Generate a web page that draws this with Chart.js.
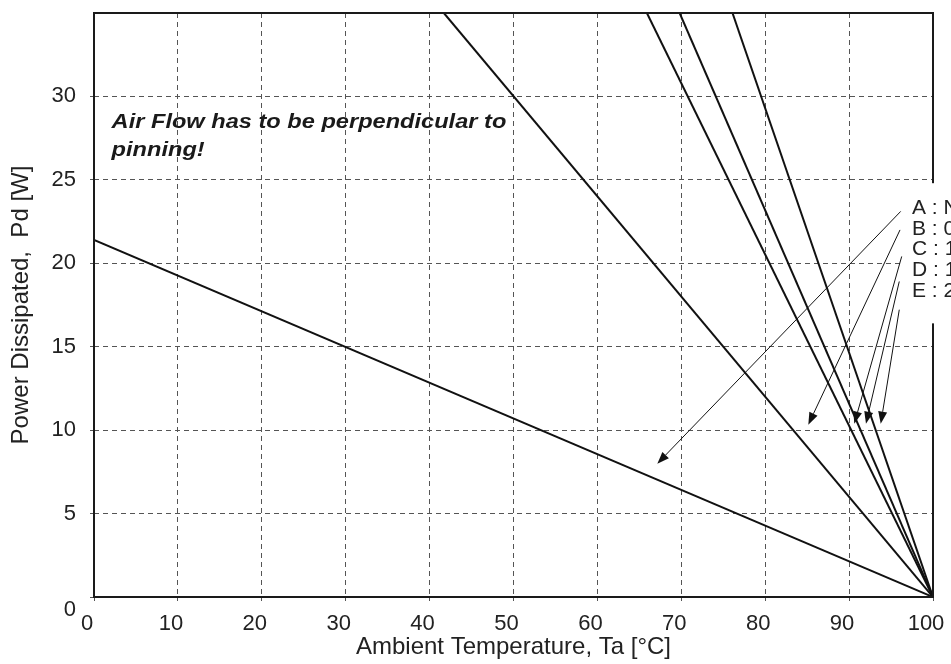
<!DOCTYPE html>
<html>
<head>
<meta charset="utf-8">
<script src="https://cdn.jsdelivr.net/npm/chart.js@4.4.1/dist/chart.umd.min.js"></script>
<style>
  html, body { margin: 0; padding: 0; background: #fff; }
  #wrap { width: 951px; height: 664px; }
</style>
</head>
<body>
<div id="wrap"><canvas id="c" width="951" height="664"></canvas></div>
<script>
// ---- data ----
const xTicks = [0, 10, 20, 30, 40, 50, 60, 70, 80, 90, 100];
const yTicks = [0, 5, 10, 15, 20, 25, 30];
const seriesNames = ['A', 'B', 'C', 'D', 'E'];
// each derating line: ambient temperature [°C] and power [W] at its two ends
const tempA = [0, 100],    powerA = [21.4, 0];
const tempB = [41.7, 100], powerB = [35, 0];
const tempC = [65.9, 100], powerC = [35, 0];
const tempD = [69.8, 100], powerD = [35, 0];
const tempE = [76.1, 100], powerE = [35, 0];
const legendLabels = ['A : No Air Flow', 'B : 0.5 m/s', 'C : 1.0 m/s', 'D : 1.5 m/s', 'E : 2.0 m/s'];
// leader arrows (data units): from near the legend text to the curves
const arrowFromT = [96.15, 96.07, 96.27, 95.98, 95.98];
const arrowFromP = [23.11, 22.0, 20.41, 18.91, 17.22];
const arrowToT   = [67.14, 85.14, 90.62, 92.01, 93.77];
const arrowToP   = [7.99, 10.33, 10.39, 10.39, 10.39];
const noteLines = ['Air Flow has to be perpendicular to', 'pinning!'];
const noteT = [2.1, 2.1];
const noteP = [28.1, 26.45];

const FONT = '"Liberation Sans", Arial, Helvetica, sans-serif';
const INK = '#222';

function pts(ts, ps) { return ts.map((t, i) => ({ x: t, y: ps[i] })); }
const seriesData = [pts(tempA, powerA), pts(tempB, powerB), pts(tempC, powerC), pts(tempD, powerD), pts(tempE, powerE)];

const overlay = {
  id: 'overlay',
  afterDraw(chart) {
    const { ctx, chartArea: a, scales: { x, y } } = chart;
    ctx.save();
    // frame
    ctx.strokeStyle = '#1a1a1a';
    ctx.lineWidth = 2;
    ctx.setLineDash([]);
    ctx.strokeRect(a.left, a.top, a.right - a.left, a.bottom - a.top);
    // legend box (white, no border)
    const bx = a.right - 30, by = y.getPixelForValue(24.8), bh = y.getPixelForValue(16.4) - by;
    ctx.fillStyle = '#fff';
    ctx.fillRect(bx, by, chart.width - bx, bh);
    ctx.fillStyle = INK;
    ctx.font = '21px ' + FONT;
    ctx.textBaseline = 'middle';
    ctx.textAlign = 'left';
    legendLabels.forEach((s, i) => {
      ctx.fillText(s, bx + 9, by + 25 + i * 20.7);
    });
    // arrows
    ctx.strokeStyle = '#111';
    ctx.fillStyle = '#111';
    ctx.lineWidth = 1;
    seriesNames.forEach((n, i) => {
      const x1 = x.getPixelForValue(arrowFromT[i]), y1 = y.getPixelForValue(arrowFromP[i]);
      const x2 = x.getPixelForValue(arrowToT[i]), y2 = y.getPixelForValue(arrowToP[i]);
      const ang = Math.atan2(y2 - y1, x2 - x1);
      const L = 12, W = 4.5;
      const bxp = x2 - L * Math.cos(ang), byp = y2 - L * Math.sin(ang);
      ctx.beginPath();
      ctx.moveTo(x1, y1);
      ctx.lineTo(bxp, byp);
      ctx.stroke();
      ctx.beginPath();
      ctx.moveTo(x2, y2);
      ctx.lineTo(bxp + W * Math.sin(ang), byp - W * Math.cos(ang));
      ctx.lineTo(bxp - W * Math.sin(ang), byp + W * Math.cos(ang));
      ctx.closePath();
      ctx.fill();
    });
    // note (bold italic, slightly wide as in the reference)
    ctx.fillStyle = '#1a1a1a';
    ctx.font = 'italic bold 20px ' + FONT;
    ctx.textBaseline = 'alphabetic';
    noteLines.forEach((s, i) => {
      const px = x.getPixelForValue(noteT[i]), py = y.getPixelForValue(noteP[i]);
      ctx.save();
      ctx.translate(px, py);
      ctx.scale(1.18, 1);
      ctx.fillText(s, 0, 0);
      ctx.restore();
    });
    ctx.restore();
  }
};

new Chart(document.getElementById('c'), {
  type: 'scatter',
  data: {
    datasets: seriesNames.map((n, i) => ({
      label: n,
      data: seriesData[i],
      showLine: true,
      borderColor: '#111',
      borderWidth: 2,
      pointRadius: 0,
      fill: false
    }))
  },
  options: {
    responsive: false,
    animation: false,
    devicePixelRatio: 1,
    layout: { padding: { top: 13, right: 18, left: 0, bottom: 0 } },
    plugins: { legend: { display: false }, tooltip: { enabled: false } },
    scales: {
      x: {
        type: 'linear',
        min: 0, max: 100,
        afterBuildTicks(s) { s.ticks = xTicks.map(v => ({ value: v })); },
        afterFit(s) { s.height = 67; s.paddingLeft = 0; s.paddingRight = 0; s.paddingTop = 0; s.paddingBottom = 0; },
        ticks: { color: INK, font: { family: FONT, size: 22 }, labelOffset: -7, padding: 10, maxRotation: 0, autoSkip: false },
        grid: { color: '#555', lineWidth: 1, tickLength: 4, tickColor: '#555', tickBorderDash: [] },
        border: { display: false, dash: [5, 4] },
        title: { display: true, text: 'Ambient Temperature, Ta [°C]', color: INK, font: { family: FONT, size: 24 }, padding: { top: 0, bottom: 2 } }
      },
      y: {
        type: 'linear',
        min: 0, max: 35,
        afterBuildTicks(s) { s.ticks = yTicks.map(v => ({ value: v })); },
        afterFit(s) { s.width = 94; s.paddingLeft = 0; s.paddingRight = 0; s.paddingTop = 0; s.paddingBottom = 0; },
        ticks: {
          color: INK, font: { family: FONT, size: 22 }, padding: 14, autoSkip: false,
          callback: v => (v === 0 ? ['', '0'] : String(v))
        },
        grid: { color: '#555', lineWidth: 1, tickLength: 4, tickColor: '#555', tickBorderDash: [] },
        border: { display: false, dash: [5, 4] },
        title: { display: true, text: 'Power Dissipated,  Pd [W]', color: INK, font: { family: FONT, size: 24 }, padding: { top: 7, bottom: 0 } }
      }
    }
  },
  plugins: [overlay]
});
</script>
</body>
</html>
